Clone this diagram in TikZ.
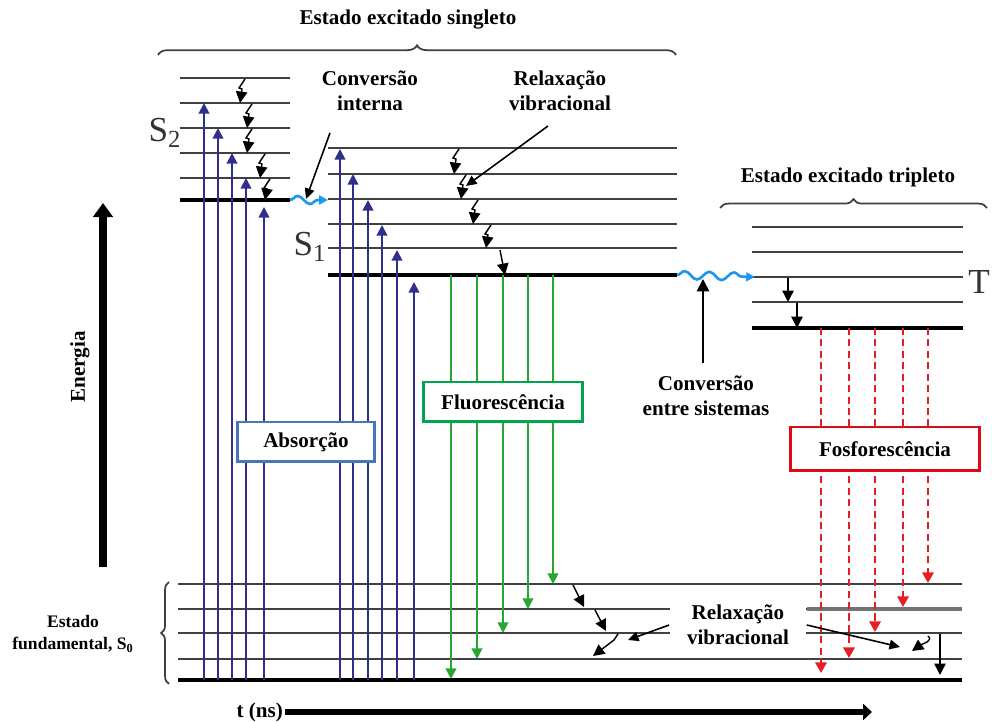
\documentclass[tikz,border=0pt]{standalone}
\usepackage{fontspec}
\setmainfont{Liberation Serif}
\usetikzlibrary{arrows.meta,decorations.pathmorphing,decorations.pathreplacing}

\definecolor{absblue}{RGB}{48,48,140}
\definecolor{fluogreen}{RGB}{40,165,50}
\definecolor{phosred}{RGB}{228,30,36}
\definecolor{waveblue}{RGB}{30,150,235}
\definecolor{boxblue}{RGB}{70,120,185}
\definecolor{boxgreen}{RGB}{0,165,80}
\definecolor{boxred}{RGB}{220,10,20}

\tikzset{
  lev/.style={black!75, line width=1.2pt},
  lev0/.style={black, line width=2.8pt},
  tip/.style={-{Triangle[length=6pt,width=6pt]}},
  absarrow/.style={absblue, line width=1.1pt, tip},
  fluoarrow/.style={fluogreen, line width=1.1pt, tip},
  phosarrow/.style={phosred, line width=1.1pt, dash pattern=on 4pt off 2.5pt, -{Triangle[length=6pt,width=6.5pt]}},
  vibarrow/.style={black, line width=0.8pt, -{Triangle[length=6.5pt,width=6.5pt]}},
  pointer/.style={black, line width=0.9pt, -{Triangle[length=6pt,width=5.5pt]}},
  wavy/.style={waveblue, line width=1.5pt, -{Triangle[length=5pt,width=5pt]}, decorate,
    decoration={snake, amplitude=2.3pt, segment length=14pt, post length=5pt}},
  txt/.style={font=\bfseries\fontsize{12}{14}\selectfont, align=center, fill=white, inner sep=2pt},
  big/.style={font=\fontsize{20}{20}\selectfont, text=black!80},
  procbox/.style={txt, draw=#1, line width=1.7pt, inner sep=0pt},
  curly/.style={decorate, black!75, line width=1pt},
}

\newcommand{\vibstep}[3]{\draw[vibarrow] (#1+5,#2+1) -- (#1-1,#2+10) -- (#1+2,#2+11) -- (#1,#3);}

\begin{document}
\begin{tikzpicture}[x=0.02cm,y=-0.02cm]
\fill[white] (0,0) rectangle (992,722);
\useasboundingbox (0,0) rectangle (992,722);

\coordinate (S2) at (290,200);
\coordinate (S1) at (328,200);
\coordinate (S1e) at (677,275);
\coordinate (T) at (755,277);

% levels
\foreach \y in {78,103,128,153,178} \draw[lev] (180,\y) -- (290,\y);
\draw[lev0] (180,200) -- (S2);
\foreach \y in {148,174,199,224,248} \draw[lev] (328,\y) -- (677,\y);
\draw[lev0] (328,275) -- (S1e);
\foreach \y in {227,252,277,302} \draw[lev] (752,\y) -- (963,\y);
\draw[lev0] (752,328) -- (963,328);
\foreach \y in {584,609,633,659} \draw[lev] (178,\y) -- (962,\y);
\draw[black!55, line width=2.2pt] (807,609) -- (962,609);
\draw[lev0] (178,680) -- (962,680);

\node[big] at (165,133) {S\textsubscript{2}};
\node[big] at (310,247) {S\textsubscript{1}};
\node[big] at (979,282) {T};

% absorcao
\foreach \x/\y in {204/103, 218/128, 232/153, 246/178, 264/207}
  \draw[absarrow] (\x,680) -- (\x,\y);
\foreach \x/\y in {340/149, 353/174, 368/200, 382/225, 397/250, 414/282}
  \draw[absarrow] (\x,680) -- (\x,\y);

% fluorescencia e fosforescencia
\foreach \x/\y in {451/679, 477/659, 503/633, 528/609, 553/584}
  \draw[fluoarrow] (\x,275) -- (\x,\y);
\foreach \x/\y in {821/673, 849/658, 875/632, 903/607, 928/583}
  \draw[phosarrow] (\x,328) -- (\x,\y);

% relaxacao vibracional
\vibstep{240}{78}{103}
\vibstep{247}{103}{128}
\vibstep{247}{128}{153}
\vibstep{260}{153}{178}
\vibstep{265}{178}{200}
\vibstep{454}{148}{174}
\vibstep{461}{174}{199}
\vibstep{473}{199}{224}
\vibstep{486}{224}{248}
\draw[vibarrow] (500,250) -- (505,275);
\draw[vibarrow] (788,278) -- (788,302);
\draw[vibarrow] (797,303) -- (797,328);
\draw[vibarrow] (573,585) -- (584,607);
\draw[vibarrow] (595,610) -- (606,631);
\draw[vibarrow] (618,634) -- (614,640) -- (593,656);
\draw[vibarrow] (928,636) .. controls (934,641) and (922,644) .. (912,651);
\draw[vibarrow] (940,634) -- (940,675);

% conversoes
\draw[wavy] (S2) -- (S1);
\draw[wavy] (S1e) -- (T);

% chaves
\node[txt] (sing) at (408,20) {Estado excitado singleto};
\draw[curly, decoration={brace, amplitude=5.5pt}] (158,55) -- (676,55);
\node[txt] (trip) at (848,177) {Estado excitado tripleto};
\draw[curly, decoration={brace, amplitude=5pt}] (720,208) -- (987,208);
\draw[curly, decoration={brace, amplitude=4.5pt}] (169,684) -- (169,582);
\node[font=\bfseries\fontsize{10}{12.5}\selectfont, align=center] (fund) at (73,634) {Estado\\fundamental, S\textsubscript{0}};

\node[txt] (ic) at (370,91) {Conversão\\interna};
\coordinate (ica) at (330,133);
\draw[pointer] (ica) -- (306,199);
\node[txt] (vr) at (560,91) {Relaxação\\vibracional};
\coordinate (vra) at (548,126);
\draw[pointer] (vra) -- (466,186);
\node[txt, minimum width=3.3cm, minimum height=1.3cm] (isc) at (706,396) {Conversão\\entre sistemas};
\draw[pointer, -{Triangle[length=7pt,width=7pt]}] (isc.north -| 703,0) -- (703,279);
\node[txt, minimum width=2.74cm, minimum height=0.9cm] (vr0) at (738,625) {Relaxação\\vibracional};
\draw[pointer] (vr0.west) -- (628,640);
\draw[pointer] (vr0.east) -- (900,647);

% caixas
\node[procbox=boxblue, minimum width=2.76cm, minimum height=0.8cm] (abs) at (306,442) {Absorção};
\node[procbox=boxgreen, minimum width=3.2cm, minimum height=0.8cm] (fluo) at (503,402) {Fluorescência};
\node[procbox=boxred, minimum width=3.78cm, minimum height=0.88cm] (phos) at (885,449) {Fosforescência};

% eixos
\draw[line width=4.5pt, -{Triangle[length=8pt,width=11pt]}] (103,567) -- (103,203);
\node[rotate=90, font=\bfseries\fontsize{12}{14}\selectfont] (en) at (80,367) {Energia};
\node[txt, anchor=east, inner sep=1pt] (t) at (285,712) {t (ns)};
\draw[line width=3.4pt, -{Triangle[length=5pt,width=9pt]}] (t.east) -- (872,712);

\end{tikzpicture}
\end{document}
